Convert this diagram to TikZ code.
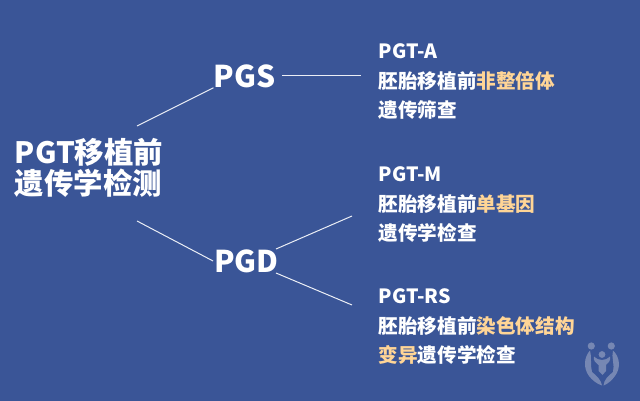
\documentclass[tikz,border=0pt]{standalone}
\usepackage{fontspec}
\setmainfont{Noto Sans CJK SC}
\definecolor{bgblue}{HTML}{3A5597}
\definecolor{hilite}{HTML}{FFD596}
\definecolor{logoblue}{HTML}{7687B3}
\tikzset{
  method/.style={text=white,font=\fontsize{30}{30}\selectfont\bfseries,inner sep=0pt},
  detail/.style={text=white,font=\fontsize{19.6}{29.5}\selectfont\bfseries,inner sep=0pt,align=left,anchor=north west},
  branch/.style={draw=white!90!bgblue,line width=1pt}
}
\newcommand{\hl}[1]{\textcolor{hilite}{#1}}
\begin{document}
\begin{tikzpicture}[x=1pt,y=-1pt]
  \fill[bgblue] (0,0) rectangle (640,401);
  \useasboundingbox (0,0) rectangle (640,401);
  % main label and the two methods
  \node[text=white,font=\fontsize{29.4}{30.5}\selectfont\bfseries,inner sep=0pt,align=left] (main) at (89,168) {PGT移植前\\遗传学检测};
  \node[method] (pgs) at (244.5,76) {PGS};
  \node[method] (pgd) at (246.5,261) {PGD};
  % details
  \node[detail] (pgta) at (378.5,43.5) {PGT-A\\胚胎移植前\hl{非整倍体}\\遗传筛查};
  \node[detail] (pgtm) at (378.5,166.5) {PGT-M\\胚胎移植前\hl{单基因}\\遗传学检查};
  \node[detail] (pgtrs) at (378.5,288.5) {PGT-RS\\胚胎移植前\hl{染色体结构}\\\hl{变异}遗传学检查};
  % free ends
  \coordinate (mainup) at (137,126);
  \coordinate (maindown) at (137,221);
  \coordinate (pgsout) at (282,76);
  \coordinate (pgdup) at (276,249);
  \coordinate (pgddown) at (276,273);
  \coordinate (pgtaend) at (361,76);
  \coordinate (pgtmend) at (352,216);
  \coordinate (pgtrsend) at (352,305);
  \draw[branch] (mainup) -- (pgs.south west);
  \draw[branch] (maindown) -- ([xshift=-1pt]pgd.west);
  \draw[branch] (pgsout) -- (pgtaend);
  \draw[branch] (pgdup) -- (pgtmend);
  \draw[branch] (pgddown) -- (pgtrsend);
  % logo
  \fill[logoblue] (591.3,346) circle (3.6);
  \fill[logoblue] (611.3,346) circle (3.6);
  \fill[logoblue] (602,354.5) circle (3.4);
  \fill[logoblue] (590,350.5) .. controls (584,357) and (583,368) .. (589,376) .. controls (592,380) and (597,384) .. (602,385.5) .. controls (601,380) and (597,376) .. (592,372) .. controls (590,365) and (592,357) .. (590,350.5) -- cycle;
  \fill[logoblue] (613,350.5) .. controls (620,357) and (621,368) .. (615,376) .. controls (612,380) and (608,384) .. (603.5,385.5) .. controls (604,380) and (608,376) .. (613,372) .. controls (615,365) and (611,357) .. (613,350.5) -- cycle;
  \fill[logoblue] (594,356.5) .. controls (597,359) and (599,360) .. (602,360) .. controls (605,360) and (607,359) .. (610,356.5) .. controls (611,361) and (608,363) .. (606,365) -- (606,371) -- (602.5,375) -- (598.5,371) -- (598.5,365) .. controls (596,363) and (593,361) .. (594,356.5) -- cycle;
\end{tikzpicture}
\end{document}
